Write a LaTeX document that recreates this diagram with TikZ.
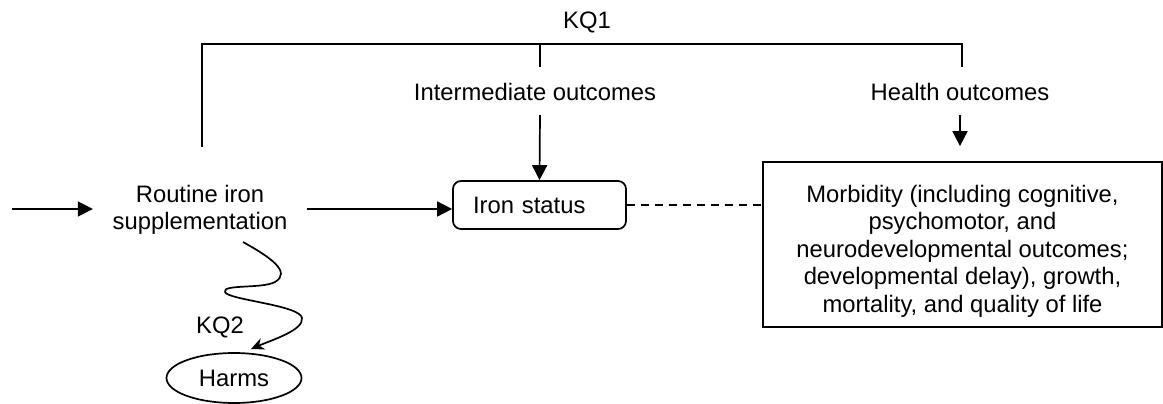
\documentclass[tikz,border=0pt]{standalone}
\usepackage{fontspec}
\setmainfont{Liberation Sans}
\usetikzlibrary{arrows.meta,shapes.geometric}
\begin{document}
\begin{tikzpicture}[x=1pt,y=-1pt,line width=1.7pt,
  every node/.style={font=\fontsize{23.8}{27.5}\selectfont,inner sep=0pt},
  arr/.style={-{Triangle[length=15pt,width=15pt]}},
  wavy/.style={-{Stealth[length=13pt,width=12pt]}},
  ironbox/.style={draw,rounded corners=8pt,minimum width=173pt,minimum height=48pt,
    text width=133pt,inner xsep=20pt,align=left},
  outbox/.style={draw,minimum width=399pt,minimum height=165pt},
  harmbox/.style={draw,ellipse,minimum width=135pt,minimum height=50pt}]
\useasboundingbox (0,0) rectangle (1163,404);

% labels
\node (kq1) at (587,22) {KQ1};
\node (inter) at (535,92) {Intermediate outcomes};
\node (health) at (960,92) {Health outcomes};
\node (kq2) at (220,327) {KQ2};

% main nodes
\node[align=center,inner xsep=19pt] (routine) at (200,210) {Routine iron\\supplementation};
\node[ironbox] (iron) at (539.5,205) {Iron status};
\node[outbox] (morb) at (962.5,244.5) {\raisebox{-7pt}[\height][\depth]{%
  \begin{tabular}{@{}c@{}}Morbidity (including cognitive,\\psychomotor, and\\
  neurodevelopmental outcomes;\\developmental delay), growth,\\
  mortality, and quality of life\end{tabular}}};
\node[harmbox] (harms) at (234,378) {Harms};

% KQ1 bracket
\coordinate (kqleft) at (202,147);
\coordinate (kqbar) at (540,44);
\coordinate (kqmid) at (540,67);
\coordinate (kqright) at (962,67);
\draw (kqleft) |- (kqbar) -| (kqright);
\draw (kqbar) -- (kqmid);

% outcome arrows
\coordinate (interFoot) at (540,115);
\draw[arr] (interFoot) -- (iron.north);
\coordinate (healthFoot) at (960,115);
\draw[arr,shorten >=15pt] (healthFoot) -- (healthFoot |- morb.north);

% main chain
\coordinate (src) at (12,209);
\draw[arr] (src) -- (src -| routine.west);
\path (routine.east |- src) coordinate (rOut);
\draw[arr] (rOut) -- (rOut -| iron.west);
\draw[dash pattern=on 8pt off 6pt] (iron.east) -- (morb.west |- iron.east);

% harms pathway
\coordinate (sq0) at (243,242);
\coordinate (sqEnd) at (251,349);
\draw[wavy] (sq0) .. controls (270,257) and (292,272) .. (275,282)
  .. controls (262,289) and (222,284) .. (225,292)
  .. controls (228,300) and (300,305) .. (302,318)
  .. controls (304,330) and (272,340) .. (sqEnd);
\end{tikzpicture}
\end{document}
